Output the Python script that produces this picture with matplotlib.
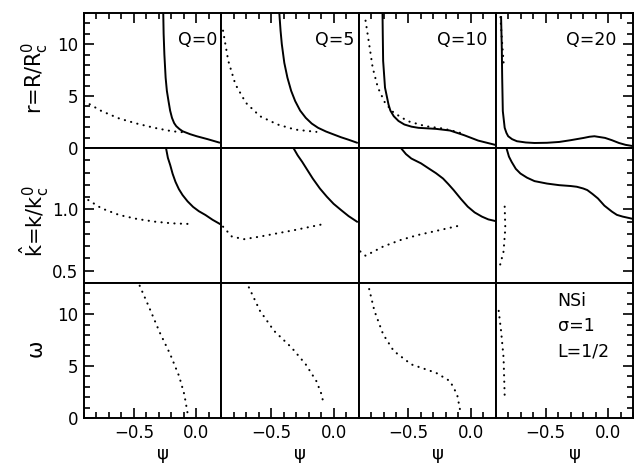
import matplotlib
matplotlib.use("Agg")
import matplotlib.pyplot as plt
from matplotlib.ticker import MultipleLocator

# ---------------- data ----------------
q_labels = ["Q=0", "Q=5", "Q=10", "Q=20"]
xticks = [-0.5, 0.0]
xticklabels = ["\u22120.5", "0.0"]

# Row 1: r = R/Rc0
r_solid_x = [
    [-0.265, -0.262, -0.256, -0.246, -0.236, -0.223, -0.21, -0.195, -0.178, -0.161, -0.135, -0.11, -0.05, 0.003, 0.09, 0.19],
    [-0.435, -0.425, -0.415, -0.395, -0.37, -0.34, -0.308, -0.268, -0.223, -0.175, -0.124, -0.06, 0.003, 0.06, 0.116, 0.194],
    [-0.708, -0.706, -0.703, -0.688, -0.66, -0.645, -0.618, -0.58, -0.533, -0.475, -0.42, -0.279, -0.167, -0.054, 0.059, 0.195],
    [-0.858, -0.852, -0.849, -0.844, -0.829, -0.815, -0.801, -0.77, -0.731, -0.66, -0.59, -0.49, -0.392, -0.30, -0.195, -0.15, -0.11, -0.025, 0.03, 0.087, 0.14, 0.2],
]
r_solid_y = [
    [13.0, 11.0, 9.0, 6.77, 5.5, 4.52, 3.6, 2.9, 2.4, 2.1, 1.82, 1.61, 1.33, 1.13, 0.85, 0.5],
    [13.0, 11.3, 10.0, 8.2, 6.77, 5.5, 4.52, 3.6, 2.9, 2.35, 1.94, 1.58, 1.29, 1.03, 0.81, 0.48],
    [13.0, 11.0, 8.39, 5.81, 4.19, 3.6, 3.06, 2.6, 2.26, 2.05, 1.94, 1.84, 1.68, 1.23, 0.71, 0.3],
    [12.7, 9.5, 6.77, 3.55, 1.94, 1.45, 1.13, 0.85, 0.65, 0.53, 0.48, 0.5, 0.58, 0.75, 0.97, 1.08, 1.13, 0.97, 0.75, 0.48, 0.3, 0.18],
]
r_dot_x = [
    [-0.9, -0.759, -0.618, -0.477, -0.336, -0.195, -0.11],
    [-0.886, -0.844, -0.787, -0.703, -0.59, -0.449, -0.308, -0.138],
    [-0.844, -0.815, -0.787, -0.745, -0.688, -0.618, -0.505, -0.364, -0.223, -0.11, -0.06],
    [-0.863, -0.85, -0.835],
]
r_dot_y = [
    [4.52, 3.55, 2.84, 2.35, 1.94, 1.61, 1.52],
    [11.3, 8.39, 6.13, 4.35, 3.06, 2.26, 1.77, 1.55],
    [12.26, 10.0, 7.74, 5.81, 4.35, 3.39, 2.58, 2.1, 1.87, 1.55, 1.35],
    [12.6, 10.2, 7.74],
]

# Row 2: k_hat = k/kc0
k_solid_x = [
    [-0.243, -0.228, -0.209, -0.19, -0.167, -0.14, -0.11, -0.07, -0.026, 0.02, 0.073, 0.13, 0.194],
    [-0.322, -0.288, -0.251, -0.21, -0.167, -0.11, -0.054, 0.0, 0.059, 0.12, 0.194],
    [-0.561, -0.52, -0.477, -0.40, -0.336, -0.28, -0.223, -0.18, -0.138, -0.08, -0.025, 0.03, 0.088, 0.14, 0.195],
    [-0.815, -0.795, -0.773, -0.74, -0.703, -0.65, -0.59, -0.49, -0.392, -0.30, -0.251, -0.20, -0.167, -0.125, -0.082, -0.03, 0.031, 0.07, 0.116, 0.2],
]
k_solid_y = [
    [1.5, 1.42, 1.36, 1.29, 1.224, 1.165, 1.116, 1.065, 1.02, 0.985, 0.954, 0.915, 0.878],
    [1.5, 1.44, 1.386, 1.32, 1.251, 1.17, 1.103, 1.045, 0.995, 0.945, 0.895],
    [1.5, 1.45, 1.414, 1.375, 1.332, 1.295, 1.251, 1.205, 1.157, 1.085, 1.022, 0.975, 0.941, 0.918, 0.905],
    [1.5, 1.43, 1.386, 1.33, 1.292, 1.258, 1.23, 1.21, 1.197, 1.19, 1.184, 1.17, 1.157, 1.125, 1.089, 1.03, 0.981, 0.955, 0.941, 0.922],
]
k_dot_x = [
    [-0.866, -0.759, -0.618, -0.477, -0.336, -0.195, -0.059],
    [-0.886, -0.815, -0.717, -0.59, -0.449, -0.308, -0.09],
    [-0.886, -0.844, -0.703, -0.561, -0.42, -0.279, -0.068],
    [-0.829, -0.824, -0.838, -0.872],
]
k_dot_y = [
    [1.076, 1.008, 0.954, 0.922, 0.9, 0.886, 0.881],
    [0.859, 0.778, 0.757, 0.778, 0.805, 0.832, 0.878],
    [0.657, 0.622, 0.697, 0.751, 0.792, 0.824, 0.873],
    [1.022, 0.846, 0.657, 0.522],
]

# Row 3: omega
w_dot_x = [
    [-0.454, -0.378, -0.293, -0.209, -0.138, -0.096, -0.068],
    [-0.679, -0.59, -0.477, -0.336, -0.223, -0.138, -0.096, -0.082],
    [-0.815, -0.773, -0.703, -0.618, -0.477, -0.279, -0.167, -0.11, -0.082],
    [-0.877, -0.858, -0.838, -0.829],
]
w_dot_y = [
    [12.74, 10.65, 8.23, 6.13, 4.03, 2.26, 0.32],
    [12.58, 10.32, 8.39, 6.77, 5.16, 3.55, 2.26, 1.45],
    [12.42, 10.32, 8.06, 6.45, 5.16, 4.35, 3.55, 2.26, 0.48],
    [10.32, 8.39, 5.81, 2.1],
]

# ---------------- figure ----------------
plt.rcParams['font.family'] = ['DejaVu Sans']
plt.rcParams['mathtext.fontset'] = 'dejavusans'
fig, axes = plt.subplots(3, 4, figsize=(6.35, 4.63), dpi=100)
fig.subplots_adjust(left=0.1323, right=0.997, top=0.972, bottom=0.0972,
                    wspace=0, hspace=0)

solid_kw = dict(color='black', lw=1.4, solid_joinstyle='round',
                solid_capstyle='butt')
dot_kw = dict(color='black', lw=1.5, linestyle=(0, (0.1, 3.0)),
              dash_capstyle='round')

fs = 12
q_xpos = [0.97, 0.97, 0.94, 0.88]
for c in range(4):
    a1, a2, a3 = axes[0, c], axes[1, c], axes[2, c]
    a1.plot(r_solid_x[c], r_solid_y[c], **solid_kw)
    a1.plot(r_dot_x[c], r_dot_y[c], **dot_kw)
    a2.plot(k_solid_x[c], k_solid_y[c], **solid_kw)
    a2.plot(k_dot_x[c], k_dot_y[c], **dot_kw)
    a3.plot(w_dot_x[c], w_dot_y[c], **dot_kw)
    a1.set_ylim(0, 13)
    a2.set_ylim(0.4, 1.5)
    a3.set_ylim(0, 13)
    for ax in (a1, a2, a3):
        ax.set_xlim(-0.9, 0.2)
        ax.xaxis.set_major_locator(MultipleLocator(0.5))
        ax.xaxis.set_minor_locator(MultipleLocator(0.1))
        for sp in ax.spines.values():
            sp.set_linewidth(1.4)
    for ax in (a1, a3):
        ax.yaxis.set_major_locator(MultipleLocator(5))
        ax.yaxis.set_minor_locator(MultipleLocator(1))
    a2.yaxis.set_major_locator(MultipleLocator(0.5))
    a2.yaxis.set_minor_locator(MultipleLocator(0.1))
    a1.text(q_xpos[c], 0.80, q_labels[c], transform=a1.transAxes,
            ha='right', va='center', fontsize=fs + 0.5)

for r in range(3):
    for c in range(4):
        ax = axes[r, c]
        ax.tick_params(which='both', direction='in', width=1.2,
                       left=(c == 0), right=(c == 3),
                       top=(r == 0), bottom=(r == 2),
                       labelleft=(c == 0), labelbottom=(r == 2),
                       labelsize=fs, pad=4)
        ax.tick_params(which='major', length=7)
        ax.tick_params(which='minor', length=4)
        if r == 2:
            ax.set_xticks(xticks)
            ax.set_xticklabels(xticklabels)
            ax.text(0.575, -0.265, "\u03c8", transform=ax.transAxes,
                    ha='center', va='center', fontsize=fs + 1)

axes[0, 0].set_yticks([0, 5, 10])
axes[0, 0].set_yticklabels(["0", "5", "10"])
axes[1, 0].set_yticks([0.5, 1.0])
axes[1, 0].set_yticklabels(["0.5", "1.0"])
axes[2, 0].set_yticks([0, 5, 10])
axes[2, 0].set_yticklabels(["0", "5", "10"])

fig.text(0.056, 0.832, r"r=R/R$_{\rm c}^{0}$", rotation=90, ha='center',
         va='center', fontsize=15)
fig.text(0.054, 0.522, r"$\hat{\rm k}$=k/k$_{\rm c}^{0}$", rotation=90,
         ha='center', va='center', fontsize=15)
fig.text(0.056, 0.248, "\u03c9", rotation=90, ha='center', va='center',
         fontsize=15)

axes[2, 3].text(0.45, 0.93, "NSi\n\u03c3=1\nL=1/2", transform=axes[2, 3].transAxes,
                ha='left', va='top', fontsize=fs + 0.5, linespacing=1.5)

fig.savefig("out.png", dpi=100)
